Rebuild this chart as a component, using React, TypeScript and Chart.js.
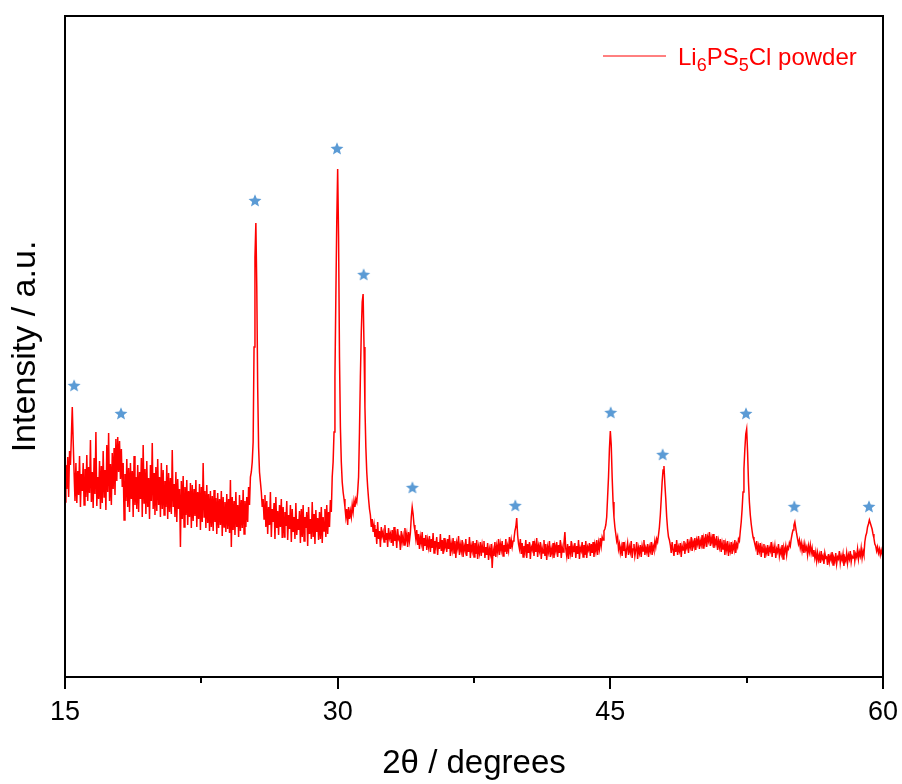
import React, { useEffect, useRef } from "react";
import { Chart, registerables } from "chart.js";

Chart.register(...registerables);

// 2θ grid of the measured pattern
const startAngle = 15;
const stepAngle = 0.05;

// Intensity (a.u.), 0.05° per value, 100 values per block
const intensity15to20 = [
  175,212,188,220,180,226,212,240,270,236,204,176,214,174,206,182,221,170,203,186,
  214,172,208,180,222,176,210,184,237,175,205,169,219,183,245,171,200,178,216,168,
  211,174,226,180,207,167,232,185,244,176,213,172,224,188,229,182,238,196,240,205,
  236,198,228,190,214,157,203,176,218,170,209,165,214,178,206,160,221,172,200,168,
  212,165,205,178,219,160,232,174,208,163,216,170,199,158,212,176,234,168,204,162,
];
const intensity20to25 = [
  210,166,218,172,200,160,214,168,207,162,196,170,212,158,204,165,199,163,227,170,
  193,160,205,155,198,168,188,130,196,158,201,150,190,162,197,152,186,160,194,149,
  192,156,188,161,197,150,185,158,193,147,190,155,214,160,186,149,192,154,183,146,
  186,150,181,146,187,155,179,143,184,149,178,152,186,141,180,150,175,145,183,148,
  178,144,197,130,180,147,176,142,185,150,172,140,182,146,177,149,187,143,176,150,
];
const intensity25to30 = [
  180,155,190,172,200,205,215,235,330,420,454,390,290,230,205,195,185,170,178,158,
  182,150,176,143,170,152,185,140,168,155,174,138,180,149,166,142,172,150,178,139,
  170,140,165,151,176,137,162,148,172,135,168,145,160,138,174,142,158,147,166,134,
  168,140,172,136,160,149,165,131,170,143,158,138,175,140,163,133,167,145,159,137,
  165,138,170,134,160,146,168,140,172,143,165,150,177,165,200,215,245,300,380,455,
];
const intensity30to35 = [
  508,440,320,250,215,195,185,178,170,160,168,152,170,158,166,160,172,165,176,170,
  178,175,185,200,245,300,345,375,383,330,270,230,205,190,178,168,162,150,158,145,
  152,140,148,133,155,138,146,130,150,141,145,135,152,137,144,130,149,139,143,134,
  147,131,150,136,142,129,148,138,140,127,146,135,141,132,149,137,143,130,145,136,
  144,160,170,163,152,146,138,147,132,143,128,140,134,145,126,139,131,142,127,137,
];
const intensity35to40 = [
  130,141,125,138,129,144,124,136,131,140,122,135,128,143,126,137,123,139,130,134,
  125,138,128,142,121,133,127,139,124,136,119,134,129,141,122,132,126,137,120,131,
  127,138,121,133,125,140,119,131,126,136,120,134,123,137,118,130,124,135,121,132,
  125,136,119,130,122,134,117,128,123,133,109,127,121,135,120,131,125,138,122,133,
  127,136,121,132,125,138,123,131,126,140,128,137,130,136,138,146,150,159,142,133,
];
const intensity40to45 = [
  128,138,123,134,120,131,126,137,119,133,124,135,118,130,127,136,121,132,125,139,
  120,131,126,135,118,129,124,137,121,133,117,130,125,136,120,128,123,134,119,131,
  126,135,120,132,124,137,119,130,125,134,145,128,121,133,118,131,124,136,120,130,
  125,134,119,131,123,137,118,129,126,135,120,132,122,136,119,130,127,134,121,133,
  124,135,120,132,126,137,122,134,128,139,131,140,137,146,148,152,160,180,200,228,
];
const intensity45to50 = [
  246,232,200,175,160,150,143,136,140,128,133,124,130,121,135,126,131,119,128,134,
  122,130,125,136,119,128,133,121,127,135,118,129,124,132,120,131,126,137,122,129,
  125,133,120,130,126,135,122,131,127,136,130,138,135,142,150,162,178,195,207,211,
  193,178,160,148,140,137,132,124,135,127,121,133,125,137,122,130,126,134,120,131,
  127,136,123,132,129,138,124,134,130,140,126,135,131,139,127,137,133,141,128,136,
];
const intensity50to55 = [
  132,142,129,138,134,143,130,140,136,145,131,139,134,143,129,137,133,141,127,136,
  130,138,125,134,128,137,122,133,127,136,121,131,126,135,123,132,128,137,124,133,
  130,138,136,146,155,168,185,208,228,243,248,225,195,175,162,153,146,140,137,133,
  129,136,122,131,126,134,120,130,125,133,119,128,124,132,121,129,126,135,120,130,
  124,131,119,128,125,133,121,127,123,132,118,129,125,131,122,130,128,134,131,138,
];
const intensity55to60 = [
  143,147,152,155,149,143,138,133,137,129,134,126,132,124,133,127,130,122,131,125,
  132,124,129,121,127,119,125,116,124,117,122,114,126,118,121,113,124,119,120,112,
  123,115,121,117,125,112,119,116,124,113,120,118,126,114,121,117,123,111,119,116,
  124,114,122,118,126,115,121,119,127,116,123,120,128,118,125,121,129,119,126,122,
  135,141,144,150,153,157,154,151,148,143,139,133,131,126,130,124,128,122,127,123,
];
const intensityAt60 = [126];

// Reflection markers (stars)
const starAngles = [15.5, 18.08, 25.45, 29.96, 31.43, 34.11, 39.77, 45.02, 47.88, 52.46, 55.12, 59.23];
const starHeights = [291, 263, 476, 528, 402, 189, 171, 264, 222, 263, 170, 170];

// Axis ticks
const majorTicks = [15, 30, 45, 60];
const minorTicks = [22.5, 37.5, 52.5];

const seriesLabel = "Li6PS5Cl powder";
const FONT = "'Liberation Sans', Arial, Helvetica, sans-serif";

function makeStar(color: string, outer: number, inner: number) {
  const size = Math.ceil(outer * 2 + 2);
  const c = document.createElement("canvas");
  c.width = size;
  c.height = size;
  const g = c.getContext("2d")!;
  g.fillStyle = color;
  g.beginPath();
  for (let i = 0; i < 10; i++) {
    const r = i % 2 === 0 ? outer : inner;
    const ang = -Math.PI / 2 + (i * Math.PI) / 5;
    const px = size / 2 + r * Math.cos(ang);
    const py = size / 2 + r * Math.sin(ang);
    if (i === 0) g.moveTo(px, py);
    else g.lineTo(px, py);
  }
  g.closePath();
  g.fill();
  return c;
}

const framePlugin = {
  id: "frameAndLegend",
  afterDraw(chart: any) {
    const { ctx, chartArea: a, scales } = chart;
    const xs = scales.x;
    ctx.save();
    ctx.strokeStyle = "#000";
    ctx.lineWidth = 2;
    ctx.strokeRect(a.left, a.top, a.right - a.left, a.bottom - a.top);
    ctx.beginPath();
    for (const v of majorTicks) {
      const px = Math.round(xs.getPixelForValue(v));
      ctx.moveTo(px, a.bottom);
      ctx.lineTo(px, a.bottom + 12);
    }
    for (const v of minorTicks) {
      const px = Math.round(xs.getPixelForValue(v));
      ctx.moveTo(px, a.bottom);
      ctx.lineTo(px, a.bottom + 6);
    }
    ctx.stroke();

    // legend
    const ly = a.top + 40;
    ctx.strokeStyle = "#ff0000";
    ctx.lineWidth = 1;
    ctx.beginPath();
    ctx.moveTo(a.right - 280, ly);
    ctx.lineTo(a.right - 217, ly);
    ctx.stroke();

    const parts: [string, boolean][] = [
      ["Li", false],
      ["6", true],
      ["PS", false],
      ["5", true],
      ["Cl powder", false],
    ];
    let tx = a.right - 205;
    const base = a.top + 48.5;
    ctx.fillStyle = "#ff0000";
    ctx.textBaseline = "alphabetic";
    ctx.textAlign = "left";
    for (const [t, sub] of parts) {
      ctx.font = sub ? `18px ${FONT}` : `24px ${FONT}`;
      ctx.fillText(t, tx, sub ? base + 6.5 : base);
      tx += ctx.measureText(t).width;
    }
    ctx.restore();
  },
};

export default function App() {
  const ref = useRef<HTMLCanvasElement | null>(null);

  useEffect(() => {
    document.body.style.margin = "0";
    const blocks = [
      intensity15to20,
      intensity20to25,
      intensity25to30,
      intensity30to35,
      intensity35to40,
      intensity40to45,
      intensity45to50,
      intensity50to55,
      intensity55to60,
      intensityAt60,
    ];
    const values = blocks.flat();
    const pattern = values.map((v, i) => ({
      x: Math.round((startAngle + i * stepAngle) * 100) / 100,
      y: v,
    }));
    const stars = starAngles.map((s, i) => ({ x: s, y: starHeights[i] }));
    const starImg = makeStar("#5b9bd5", 6.8, 3.0);

    const chart = new Chart(ref.current!, {
      type: "line",
      data: {
        datasets: [
          {
            label: seriesLabel,
            data: pattern,
            borderColor: "#ff0000",
            borderWidth: 1.5,
            pointRadius: 0,
            tension: 0,
            fill: false,
          },
          {
            type: "scatter",
            label: "reflections",
            data: stars,
            pointStyle: starImg as any,
            pointRadius: 7,
            showLine: false,
          } as any,
        ],
      },
      options: {
        responsive: false,
        animation: false,
        devicePixelRatio: 1,
        layout: { padding: { top: 16, right: 19, left: 0, bottom: 0 } },
        plugins: { legend: { display: false }, tooltip: { enabled: false } },
        scales: {
          x: {
            type: "linear",
            min: 15,
            max: 60,
            afterFit(s: any) {
              s.height = 107;
              s.paddingLeft = 0;
              s.paddingRight = 0;
            },
            grid: { display: false },
            border: { display: false },
            ticks: {
              stepSize: 15,
              autoSkip: false,
              maxRotation: 0,
              padding: 11,
              color: "#000",
              font: { size: 27, family: FONT },
            },
            title: {
              display: true,
              text: "2θ / degrees",
              color: "#000",
              font: { size: 33, family: FONT },
              padding: { top: 0, bottom: 0 },
            },
          },
          y: {
            min: 0,
            max: 661,
            afterFit(s: any) {
              s.width = 65;
              s.paddingTop = 0;
              s.paddingBottom = 0;
            },
            grid: { display: false },
            border: { display: false },
            ticks: { display: false },
            title: {
              display: true,
              text: "Intensity / a.u.",
              color: "#000",
              font: { size: 34, family: FONT },
              padding: { top: 5, bottom: 0 },
            },
          },
        },
      },
      plugins: [framePlugin],
    });
    return () => chart.destroy();
  }, []);

  return (
    <div style={{ width: 902, height: 784 }}>
      <canvas ref={ref} width={902} height={784} style={{ display: "block" }} />
    </div>
  );
}
